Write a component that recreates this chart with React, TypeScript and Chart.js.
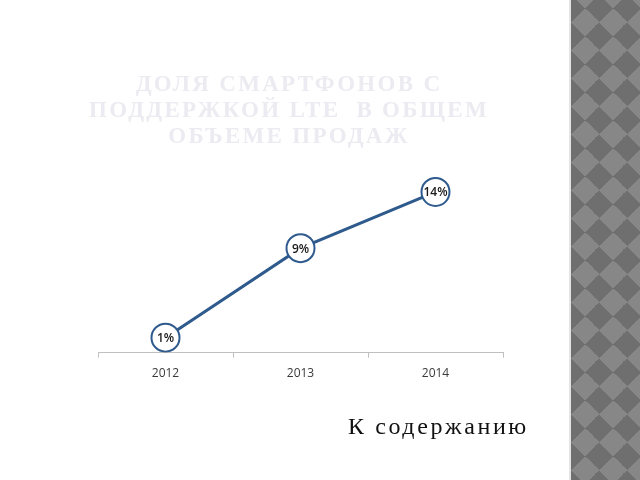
import React, { useEffect, useRef } from "react";
import { Chart, registerables } from "chart.js";

Chart.register(...registerables);

const categories: string[] = ["2012", "2013", "2014"];
const shareValues: number[] = [1.3, 9.1, 14];
const valueLabels: string[] = ["1%", "9%", "14%"];
const titleLines: string[] = ["ДОЛЯ СМАРТФОНОВ С", "ПОДДЕРЖКОЙ LTE  В ОБЩЕМ", "ОБЪЕМЕ ПРОДАЖ"];
const linkText = "К содержанию";

const LINE_COLOR = "#2f5a8d";

const labelPlugin = {
  id: "pointLabels",
  afterDatasetsDraw(chart: any) {
    const ctx = chart.ctx;
    const meta = chart.getDatasetMeta(0);
    ctx.save();
    ctx.font = "600 12px 'Open Sans', 'Liberation Sans', Arial, sans-serif";
    ctx.fillStyle = "#1a1a1a";
    ctx.textAlign = "center";
    ctx.textBaseline = "middle";
    meta.data.forEach((pt: any, i: number) => {
      ctx.fillText(valueLabels[i], pt.x, pt.y + 1);
    });
    ctx.restore();
  },
};

export default function App() {
  const canvasRef = useRef<HTMLCanvasElement | null>(null);

  useEffect(() => {
    if (!canvasRef.current) return;
    const chart = new Chart(canvasRef.current, {
      type: "line",
      data: {
        labels: categories,
        datasets: [
          {
            data: shareValues,
            borderColor: LINE_COLOR,
            borderWidth: 3,
            pointRadius: 14,
            pointHoverRadius: 14,
            pointBorderWidth: 2,
            pointBackgroundColor: "#ffffff",
            pointBorderColor: LINE_COLOR,
            tension: 0,
          },
        ],
      },
      options: {
        responsive: false,
        animation: false,
        layout: { padding: { left: 98, right: 137, top: 169, bottom: 90 } },
        plugins: {
          legend: { display: false },
          title: { display: false },
          tooltip: { enabled: false },
        },
        scales: {
          x: {
            type: "category",
            offset: true,
            grid: {
              display: true,
              offset: true,
              drawOnChartArea: false,
              drawTicks: true,
              tickLength: 5,
              color: "#c0c0c0",
            },
            border: { display: true, color: "#c0c0c0", width: 1 },
            ticks: {
              padding: 9,
              color: "#3a3a3a",
              font: { family: "'Open Sans', 'Liberation Sans', Arial, sans-serif", size: 12 },
            },
          },
          y: {
            display: false,
            min: 0,
            max: 16,
          },
        },
      },
      plugins: [labelPlugin],
    });
    return () => chart.destroy();
  }, []);

  return (
    <div
      style={{
        position: "fixed",
        left: 0,
        top: 0,
        width: 640,
        height: 480,
        background: "#ffffff",
        overflow: "hidden",
      }}
    >
      <canvas
        ref={canvasRef}
        width={640}
        height={480}
        style={{ position: "absolute", left: 0, top: 0, width: 640, height: 480 }}
      />
      <div
        style={{
          position: "absolute",
          left: 39,
          width: 500,
          top: 71,
          textAlign: "center",
          fontFamily: "'Liberation Serif', 'Times New Roman', serif",
          fontWeight: "bold",
          fontSize: 23,
          lineHeight: "26px",
          letterSpacing: "2.3px",
          color: "#ebebf1",
          whiteSpace: "pre",
        }}
      >
        {titleLines.map((l, i) => (
          <div key={i}>{l}</div>
        ))}
      </div>
      <div
        style={{
          position: "absolute",
          left: 348,
          top: 411,
          fontFamily: "'Liberation Serif', 'Times New Roman', serif",
          fontSize: 24,
          lineHeight: "30px",
          letterSpacing: "2.6px",
          color: "#111111",
          whiteSpace: "pre",
        }}
      >
        {linkText}
      </div>
      <div
        style={{
          position: "absolute",
          left: 569,
          top: 0,
          width: 2,
          height: 480,
          background: "#e4e4e4",
        }}
      />
      <div
        style={{
          position: "absolute",
          left: 571,
          top: 0,
          width: 69,
          height: 480,
          backgroundColor: "#7c7c7c",
          backgroundImage:
            "conic-gradient(from 45deg, #6f6f6f 0 25%, #878787 0 50%, #6f6f6f 0 75%, #878787 0)",
          backgroundSize: "28px 28px",
          backgroundPosition: "0 -6px",
        }}
      />
    </div>
  );
}
